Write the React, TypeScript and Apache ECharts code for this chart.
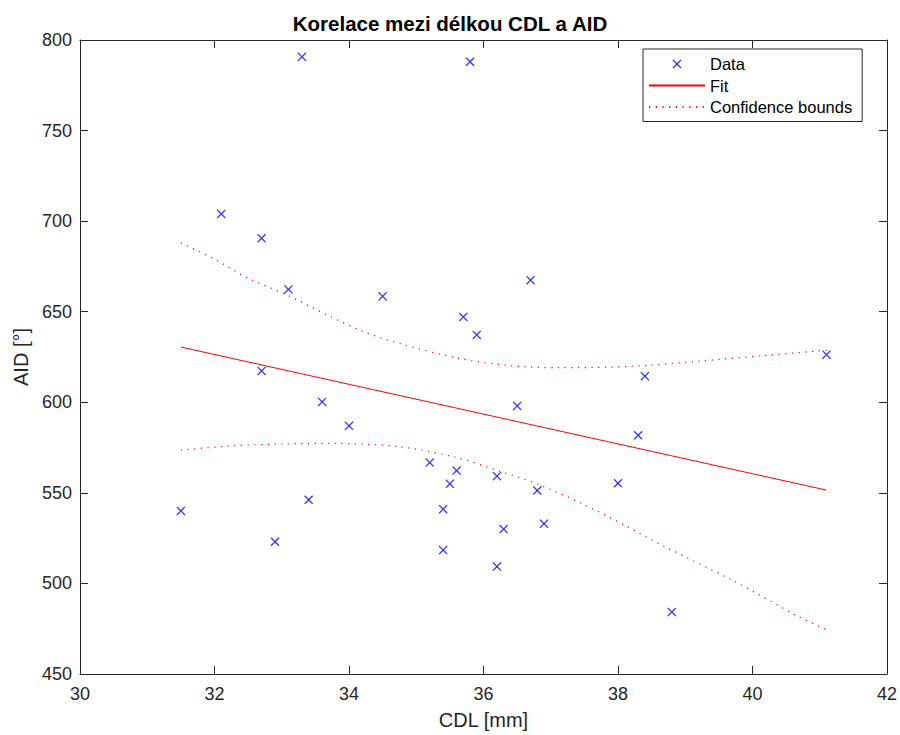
import React, { useEffect, useRef } from 'react';
import * as echarts from 'echarts';

// Measured data (CDL [mm], AID [°])
const cdl = [31.5, 32.1, 32.7, 33.1, 32.7, 33.6, 34.0, 33.4, 32.9, 33.3, 35.8, 34.5, 36.7, 35.7, 35.9, 36.5, 38.3, 38.4, 35.2, 35.6, 35.5, 36.2, 36.8, 38.0, 35.4, 36.3, 36.9, 35.4, 36.2, 38.8, 41.1];
const aid = [540, 704, 690.5, 662.3, 617.3, 600.2, 587, 546.2, 523, 790.7, 788, 658.5, 667.4, 647.1, 637.2, 598, 581.8, 614.4, 566.7, 562.3, 555, 559.2, 551.3, 555.3, 541, 530, 533, 518.4, 509.3, 484.2, 626.3];

// Linear fit (end points)
const fitX = [31.5, 41.1];
const fitY = [630.5, 551.5];

// Confidence bounds
const upperX = [31.5, 32.0, 32.5, 33.1, 33.7, 34.2, 34.75, 35.6, 36.4, 37.1, 37.9, 38.5, 39.2, 40.2, 41.1];
const upperY = [688, 679, 668.5, 658.8, 647.8, 639.2, 632.5, 624.5, 620.2, 619.1, 619.4, 620.5, 622.7, 625.9, 628.7];
const lowerX = [31.5, 32.27, 33.02, 33.76, 34.75, 35.59, 36.23, 36.82, 37.47, 38.1, 38.7, 39.69, 40.68, 41.1];
const lowerY = [573.6, 576, 577, 577.3, 575.5, 569.6, 562.1, 554.6, 544, 532.1, 520.2, 502, 481.8, 474.5];

// Axis ranges / ticks
const xMin = 30, xMax = 42, xStep = 2;
const yMin = 450, yMax = 800, yStep = 50;

const titleText = 'Korelace mezi délkou CDL a AID';
const xName = 'CDL [mm]';
const yName = 'AID [°]';

const FONT = "'Liberation Sans', Arial, Helvetica, sans-serif";
const AXIS = '#262626';
const X_SYMBOL = 'path://M0,1L1,0L5,4L9,0L10,1L6,5L10,9L9,10L5,6L1,10L0,9L4,5Z';

const zip = (xs: number[], ys: number[]) => xs.map((x, i) => [x, ys[i]]);

export default function App() {
  const ref = useRef<HTMLDivElement>(null);

  useEffect(() => {
    if (!ref.current) return;
    const chart = echarts.init(ref.current, null, { renderer: 'svg' });

    const baseX = {
      type: 'value' as const,
      min: xMin,
      max: xMax,
      interval: xStep,
      splitLine: { show: false },
      axisLine: { show: true, onZero: false, lineStyle: { color: AXIS, width: 1 } },
      axisTick: { show: true, inside: true, length: 8, lineStyle: { color: AXIS, width: 1 } },
    };
    const baseY = {
      type: 'value' as const,
      min: yMin,
      max: yMax,
      interval: yStep,
      splitLine: { show: false },
      axisLine: { show: true, onZero: false, lineStyle: { color: AXIS, width: 1 } },
      axisTick: { show: true, inside: true, length: 8, lineStyle: { color: AXIS, width: 1 } },
    };

    const dotted = { color: '#ff0000', width: 1.2, type: [1.2, 5.5] as any };
    const hiddenSymbol = { color: 'rgba(255,0,0,0)', opacity: 0 };

    chart.setOption({
      animation: false,
      backgroundColor: '#ffffff',
      title: {
        text: titleText,
        left: 'center',
        top: 13,
        padding: [0, 0, 0, 69],
        textStyle: { fontFamily: FONT, fontSize: 20.5, fontWeight: 'bold', color: '#000000' },
      },
      grid: { left: 80, right: 11, top: 40, bottom: 57 },
      legend: {
        orient: 'vertical',
        left: 643,
        top: 49,
        padding: [6.5, 10, 6, 5],
        itemWidth: 56,
        itemHeight: 9,
        itemGap: 4.5,
        borderColor: AXIS,
        borderWidth: 1,
        backgroundColor: '#ffffff',
        selectedMode: false,
        textStyle: { fontFamily: FONT, fontSize: 16.5, color: '#000000' },
        data: [
          { name: 'Data' },
          { name: 'Fit', itemStyle: hiddenSymbol },
          { name: 'Confidence bounds', itemStyle: hiddenSymbol },
        ],
      },
      xAxis: [
        {
          ...baseX,
          position: 'bottom',
          name: xName,
          nameLocation: 'middle',
          nameGap: 36,
          nameTextStyle: { fontFamily: FONT, fontSize: 20, color: AXIS },
          axisLabel: { color: AXIS, fontFamily: FONT, fontSize: 18, margin: 11 },
        },
        {
          ...baseX,
          position: 'top',
          axisLabel: { show: false },
        },
      ],
      yAxis: [
        {
          ...baseY,
          position: 'left',
          name: yName,
          nameLocation: 'middle',
          nameGap: 46,
          nameTextStyle: { fontFamily: FONT, fontSize: 20, color: AXIS },
          axisLabel: { color: AXIS, fontFamily: FONT, fontSize: 18, margin: 8 },
        },
        {
          ...baseY,
          position: 'right',
          axisLabel: { show: false },
        },
      ],
      series: [
        {
          name: 'Data',
          type: 'scatter',
          data: zip(cdl, aid),
          symbol: X_SYMBOL,
          symbolSize: 9,
          itemStyle: { color: '#0000ff' },
          z: 3,
        },
        {
          name: 'Fit',
          type: 'line',
          data: zip(fitX, fitY),
          symbol: 'none',
          itemStyle: hiddenSymbol,
          lineStyle: { color: '#ff0000', width: 1 },
        },
        {
          name: 'Confidence bounds',
          type: 'line',
          data: zip(upperX, upperY),
          symbol: 'none',
          smooth: 0.3,
          itemStyle: hiddenSymbol,
          lineStyle: dotted,
        },
        {
          name: 'Confidence bounds',
          type: 'line',
          data: zip(lowerX, lowerY),
          symbol: 'none',
          smooth: 0.3,
          itemStyle: hiddenSymbol,
          lineStyle: dotted,
        },
      ],
    });

    return () => chart.dispose();
  }, []);

  return (
    <div
      ref={ref}
      style={{ position: 'fixed', left: 0, top: 0, width: 900, height: 735, background: '#fff' }}
    />
  );
}
